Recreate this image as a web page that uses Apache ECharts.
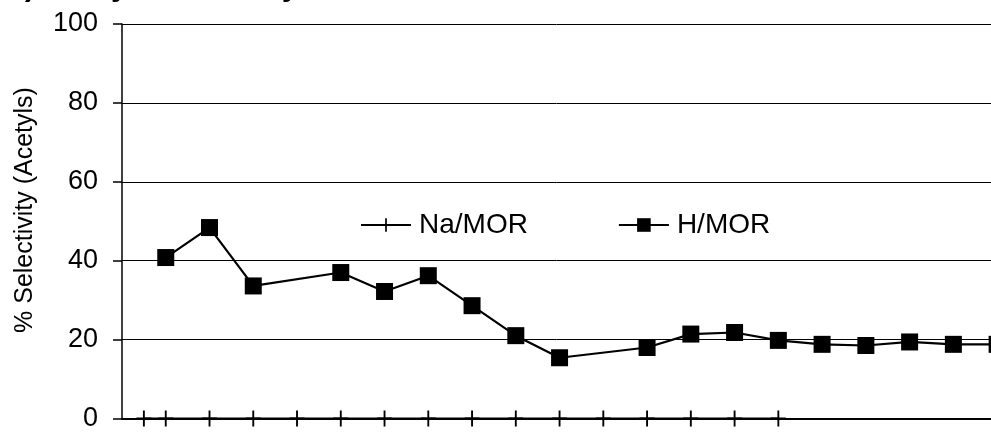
<!DOCTYPE html>
<html>
<head>
<meta charset="utf-8">
<script src="https://cdn.jsdelivr.net/npm/echarts@6/dist/echarts.min.js"></script>
<style>
  html, body { margin: 0; padding: 0; background: #fff; }
  #chart { width: 991px; height: 432px; }
</style>
</head>
<body>
<div id="chart"></div>
<script>
// Time on stream (h) and selectivity to acetyls (%) for each catalyst
const naTimes  = [0.5, 1, 2, 3, 4, 5, 6, 7, 8, 9, 10, 11, 12, 13, 14, 15];
const naValues = [0, 0, 0, 0, 0, 0, 0, 0, 0, 0, 0, 0, 0, 0, 0, 0];

const hTimes  = [1, 2, 3, 5, 6, 7, 8, 9, 10, 12, 13, 14, 15, 16, 17, 18, 19, 20];
const hValues = [40.8, 48.4, 33.6, 37.0, 32.2, 36.2, 28.6, 21.0, 15.4, 18.0, 21.4, 21.8, 19.8, 18.8, 18.5, 19.4, 18.8, 18.8];

const yTicks = [0, 20, 40, 60, 80, 100];

const seriesNames = ['Na/MOR', 'H/MOR'];
const yAxisTitle = '% Selectivity (Acetyls)';
const chartTitle = 'b) Acetyl Selectivity';

const FONT = "'Liberation Sans', Arial, Helvetica, sans-serif";

// thin cross used as the Na/MOR marker
const plusPath = 'path://M7,0 H9 V7 H16 V9 H9 V16 H7 V9 H0 V7 H7 Z';

const pairs = (xs, ys) => xs.map((x, i) => [x, ys[i]]);

const chart = echarts.init(document.getElementById('chart'), null, { renderer: 'canvas' });

chart.setOption({
  backgroundColor: '#ffffff',
  animation: false,
  grid: { left: 122, top: 24, bottom: 6, right: 0, containLabel: false },
  legend: {
    left: 360,
    top: 211,
    padding: 0,
    itemWidth: 50,
    itemHeight: 17,
    itemGap: 90,
    data: seriesNames,
    textStyle: { fontFamily: FONT, fontSize: 28, color: '#000', padding: [0, 0, 0, 3] }
  },
  xAxis: {
    type: 'value',
    min: 0,
    max: 19.86,
    axisLine: { show: true, onZero: false, lineStyle: { color: '#000', width: 2 } },
    axisTick: { show: false },
    axisLabel: { show: false },
    splitLine: { show: false }
  },
  yAxis: {
    type: 'value',
    min: yTicks[0],
    max: yTicks[yTicks.length - 1],
    interval: yTicks[1] - yTicks[0],
    axisLine: { show: true, lineStyle: { color: '#000', width: 1.5 } },
    axisTick: { show: true, inside: false, length: 9, lineStyle: { color: '#000', width: 1.5 } },
    axisLabel: { margin: 24, fontFamily: FONT, fontSize: 27, color: '#000' },
    splitLine: { show: true, lineStyle: { color: '#000', width: 1 } }
  },
  graphic: [
    {
      type: 'text',
      x: 25,
      y: 210,
      rotation: Math.PI / 2,
      style: {
        text: yAxisTitle,
        fill: '#000',
        font: '25px ' + FONT,
        align: 'center',
        verticalAlign: 'middle'
      }
    },
    {
      type: 'text',
      x: 6,
      y: 1.5,
      style: {
        text: chartTitle,
        fill: '#000',
        font: 'bold 31px ' + FONT,
        align: 'left',
        verticalAlign: 'bottom'
      }
    }
  ],
  series: [
    {
      name: seriesNames[0],
      type: 'line',
      data: pairs(naTimes, naValues),
      symbol: plusPath,
      symbolSize: [15, 16],
      clip: false,
      z: 3,
      lineStyle: { color: '#000', width: 2 },
      itemStyle: { color: '#000' }
    },
    {
      name: seriesNames[1],
      type: 'line',
      data: pairs(hTimes, hValues),
      symbol: 'rect',
      symbolSize: 17,
      clip: false,
      z: 4,
      lineStyle: { color: '#000', width: 2.2 },
      itemStyle: { color: '#000' }
    }
  ]
});
</script>
</body>
</html>
